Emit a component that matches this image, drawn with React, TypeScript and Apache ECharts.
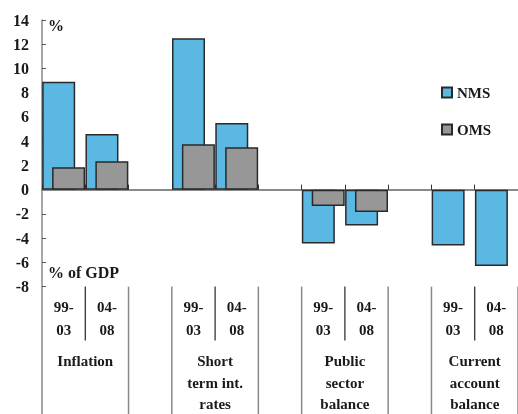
import React, { useEffect, useRef } from "react";
import * as echarts from "echarts";

const groups = ["Inflation", "Short\nterm int.\nrates", "Public\nsector\nbalance", "Current\naccount\nbalance"];
const periods = ["99-\n03", "04-\n08"];
const nmsValues = [8.9, 4.6, 12.5, 5.5, -4.45, -2.95, -4.6, -6.3];
const omsValues: (number | null)[] = [1.85, 2.35, 3.75, 3.5, -1.35, -1.85, null, null];
const yTicks = { min: -8, max: 14, interval: 2 };

const FONT = "Liberation Serif";
const TEXT = "#1a1a1a";
const AXIS = "#8a8a8a";

export default function App() {
  const ref = useRef<HTMLDivElement>(null);
  useEffect(() => {
    if (!ref.current) return;
    const chart = echarts.init(ref.current, undefined, { renderer: "svg" });

    const slots: string[] = [];
    const nms: (number | string)[] = [];
    const oms: (number | string)[] = [];
    groups.forEach((g, gi) => {
      periods.forEach((p, pi) => {
        slots.push(p);
        const v1 = nmsValues[gi * 2 + pi];
        const v2 = omsValues[gi * 2 + pi];
        nms.push(v1 == null ? "-" : v1);
        oms.push(v2 == null ? "-" : v2);
      });
      if (gi < groups.length - 1) {
        slots.push("");
        nms.push("-");
        oms.push("-");
      }
    });

    const option: any = {
      animation: false,
      grid: { left: 42, top: 20, width: 478, height: 266.6 },
      legend: {
        orient: "vertical",
        left: 436,
        top: 80,
        itemWidth: 10,
        itemHeight: 10,
        itemGap: 22,
        icon: "rect",
        textStyle: { fontFamily: FONT, fontWeight: "bold", fontSize: 15, color: TEXT },
        data: ["NMS", "OMS"],
      },
      xAxis: [
        {
          type: "category",
          data: slots,
          position: "bottom",
          axisLine: { onZero: true, lineStyle: { color: AXIS, width: 2 } },
          axisTick: { show: true, inside: true, length: 5, interval: 0, lineStyle: { color: "#333", width: 1 } },
          axisLabel: { show: false },
          splitLine: { show: false },
          z: 1,
        },
        {
          type: "category",
          data: slots,
          position: "bottom",
          axisLine: { show: false, onZero: false },
          axisTick: { show: false },
          axisLabel: {
            show: true,
            interval: 0,
            margin: 9,
            fontFamily: FONT,
            fontWeight: "bold",
            fontSize: 15,
            lineHeight: 23,
            color: TEXT,
          },
          splitLine: { show: false },
        },
      ],
      yAxis: {
        type: "value",
        min: yTicks.min,
        max: yTicks.max,
        interval: yTicks.interval,
        axisLine: { show: true, lineStyle: { color: AXIS, width: 1.5 } },
        axisTick: { show: true, inside: true, length: 4, lineStyle: { color: "#555" } },
        axisLabel: { margin: 13, fontFamily: FONT, fontWeight: "bold", fontSize: 16, color: TEXT },
        splitLine: { show: false },
      },
      series: [
        {
          name: "NMS",
          type: "bar",
          data: nms,
          barWidth: 33,
          barGap: "-70%",
          itemStyle: { color: "#5bb8e3", borderColor: "#2a2a2a", borderWidth: 1.5 },
        },
        {
          name: "OMS",
          type: "bar",
          data: oms,
          barWidth: 33,
          barGap: "-70%",
          itemStyle: { color: "#979797", borderColor: "#2a2a2a", borderWidth: 1.5 },
        },
      ],
    };
    chart.setOption(option);

    const xc = (i: number) => chart.convertToPixel({ xAxisIndex: 0 }, i) as number;
    const yp = (v: number) => chart.convertToPixel({ yAxisIndex: 0 }, v) as number;
    const w = xc(1) - xc(0);
    const yBottom = yp(yTicks.min);
    const yTop = yp(yTicks.max);
    const graphic: any[] = [];
    groups.forEach((g, gi) => {
      const s = gi * 3;
      const left = xc(s) - w / 2;
      const mid = xc(s) + w / 2;
      const right = xc(s + 1) + w / 2;
      [left, right].forEach((x) => {
        graphic.push({
          type: "line",
          shape: { x1: x, y1: yBottom, x2: x, y2: 414 },
          style: { stroke: AXIS, lineWidth: 1.5 },
          silent: true,
        });
      });
      graphic.push({
        type: "line",
        shape: { x1: mid, y1: yBottom, x2: mid, y2: yBottom + 54 },
        style: { stroke: "#222", lineWidth: 1.2 },
        silent: true,
      });
      graphic.push({
        type: "text",
        x: mid,
        y: yBottom + 64,
        style: {
          text: g,
          fontFamily: FONT,
          fontWeight: "bold",
          fontSize: 15,
          lineHeight: 21.5,
          fill: TEXT,
          align: "center",
          verticalAlign: "top",
        },
        silent: true,
      });
    });
    graphic.push({
      type: "text",
      x: 48,
      y: yTop + 5,
      style: { text: "%", fontFamily: FONT, fontWeight: "bold", fontSize: 16, fill: TEXT, align: "left", verticalAlign: "middle" },
    });
    graphic.push({
      type: "text",
      x: 48,
      y: yp(-6.8),
      style: { text: "% of GDP", fontFamily: FONT, fontWeight: "bold", fontSize: 16, fill: TEXT, align: "left", verticalAlign: "middle" },
    });
    chart.setOption({ graphic });

    return () => chart.dispose();
  }, []);
  return <div ref={ref} style={{ position: "fixed", left: 0, top: 0, width: 518, height: 414 }} />;
}
